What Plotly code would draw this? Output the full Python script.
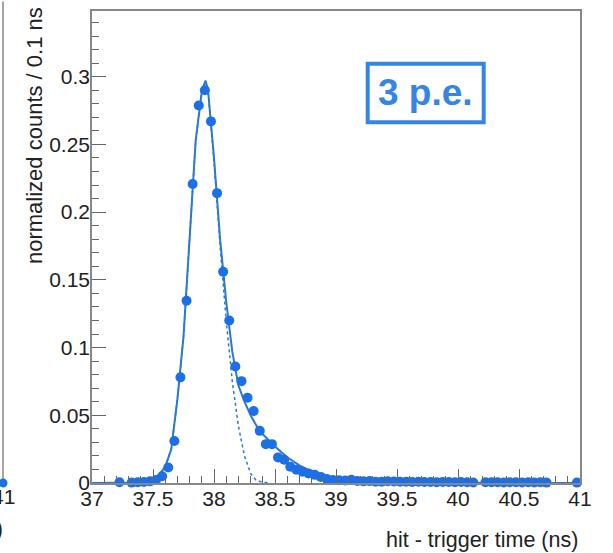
import plotly.graph_objects as go

# ---- data ----
bin_centers = [
    37.025, 37.075, 37.125, 37.175, 37.225, 37.275, 37.325, 37.375, 37.425, 37.475,
    37.525, 37.575, 37.625, 37.675, 37.725, 37.775, 37.825, 37.875, 37.925, 37.975,
    38.025, 38.075, 38.125, 38.175, 38.225, 38.275, 38.325, 38.375, 38.425, 38.475,
    38.525, 38.575, 38.625, 38.675, 38.725, 38.775, 38.825, 38.875, 38.925, 38.975,
    39.025, 39.075, 39.125, 39.175, 39.225, 39.275, 39.325, 39.375, 39.425, 39.475,
    39.525, 39.575, 39.625, 39.675, 39.725, 39.775, 39.825, 39.875, 39.925, 39.975,
    40.025, 40.075, 40.125, 40.175, 40.225, 40.275, 40.325, 40.375, 40.425, 40.475,
    40.525, 40.575, 40.625, 40.675, 40.725, 40.775, 40.825, 40.875, 40.925, 40.975,
]
counts = [
    None, None, None, None, 0.0005, None, 0.0003, 0.0005, 0.0007, 0.0012,
    0.0022, 0.0050, 0.0115, 0.031, 0.078, 0.1346, 0.2208, 0.2787, 0.2900, 0.2670,
    0.2140, 0.1560, 0.1200, 0.0860, 0.0752, 0.0630, 0.0532, 0.0385, 0.0287, 0.0287,
    0.0189, 0.0172, 0.0120, 0.0098, 0.0083, 0.0071, 0.0060, 0.0045, 0.0030, 0.0022,
    0.0020, 0.0018, 0.0024, 0.0015, 0.0012, 0.0014, 0.0010, 0.0009, 0.0013, 0.0011,
    0.0009, 0.0010, 0.0008, 0.0009, 0.0007, 0.0008, 0.0006, 0.0008, 0.0007, 0.0006,
    0.0007, 0.0005, 0.0004, None, 0.0006, 0.0005, 0.0006, 0.0004, 0.0005, 0.0006,
    0.0004, 0.0005, 0.0004, 0.0005, 0.0003, None, None, None, None, 0.0003,
]

fit_x = [37.0, 37.3, 37.4, 37.45, 37.5, 37.55, 37.6, 37.65, 37.7, 37.75, 37.8, 37.85,
         37.9, 37.93, 37.95, 38.0, 38.05, 38.1, 38.15, 38.2, 38.25, 38.3, 38.35, 38.4,
         38.5, 38.6, 38.7, 38.8, 38.9, 39.0, 39.2, 39.5, 40.0, 41.0]
fit_y = [0.0, 0.0, 0.0003, 0.001, 0.003, 0.006, 0.012, 0.025, 0.062, 0.108, 0.180, 0.253,
         0.289, 0.297, 0.291, 0.240, 0.180, 0.134, 0.097, 0.072, 0.060, 0.050, 0.042, 0.036,
         0.027, 0.019, 0.013, 0.0085, 0.0055, 0.0035, 0.0015, 0.0005, 0.0001, 0.0]

gauss_x = [37.0, 37.3, 37.4, 37.45, 37.5, 37.55, 37.6, 37.65, 37.7, 37.75, 37.8, 37.85,
           37.9, 37.93, 37.95, 38.0, 38.05, 38.1, 38.15, 38.2, 38.25, 38.3, 38.35, 38.45]
gauss_y = [0.0, 0.0, 0.0003, 0.001, 0.003, 0.006, 0.012, 0.025, 0.062, 0.108, 0.180, 0.253,
           0.289, 0.297, 0.291, 0.238, 0.175, 0.120, 0.075, 0.042, 0.020, 0.007, 0.0015, 0.0]

x_title = "hit - trigger time (ns)"
y_title = "normalized counts / 0.1 ns"
label_text = "3 p.e."

MARK = "#1c6fe6"
LINE = "#2a78d8"
BOX = "#3584e8"
FONT = "Liberation Sans, Arial, Helvetica, sans-serif"

fig = go.Figure()
fig.add_trace(go.Scatter(x=fit_x, y=fit_y, mode="lines",
                         line=dict(color=LINE, width=2), cliponaxis=False,
                         showlegend=False, hoverinfo="skip"))
fig.add_trace(go.Scatter(x=gauss_x, y=gauss_y, mode="lines",
                         line=dict(color=LINE, width=1.5, dash="dot"), cliponaxis=False,
                         showlegend=False, hoverinfo="skip"))
fig.add_trace(go.Scatter(x=bin_centers, y=counts, mode="markers",
                         marker=dict(color=MARK, size=10), cliponaxis=False,
                         showlegend=False))

axis_common = dict(
    showgrid=False, zeroline=False, showline=True, mirror=True,
    linecolor="#888888", linewidth=1.5,
    ticks="inside", ticklen=14, tickwidth=1.2, tickcolor="#666666",
    tickfont=dict(family=FONT, size=21, color="#222222"),
)

fig.update_layout(
    width=613, height=553,
    margin=dict(l=92, r=33, t=9, b=70),
    paper_bgcolor="white", plot_bgcolor="white",
    font=dict(family=FONT, color="#222222"),
    xaxis=dict(range=[37, 41], tick0=37, dtick=0.5, ticklabelstandoff=-4,
               minor=dict(ticks="inside", ticklen=7, dtick=0.1, tickcolor="#666666", tickwidth=1.2),
               **axis_common),
    yaxis=dict(range=[0, 0.3485], tick0=0, dtick=0.05, ticklabelstandoff=-4,
               minor=dict(ticks="inside", ticklen=7, dtick=0.01, tickcolor="#666666", tickwidth=1.2),
               **axis_common),
)

# axis titles (ROOT style: aligned to the end of the axis)
fig.add_annotation(text=y_title, xref="paper", yref="paper",
                   x=(34.5 - 92) / 488, y=(483 - 3) / 474, xanchor="center", yanchor="top",
                   textangle=-90, showarrow=False, font=dict(family=FONT, size=22, color="#222222"))
fig.add_annotation(text=x_title, xref="paper", yref="paper",
                   x=1.0, y=(483 - 540) / 474, xanchor="right", yanchor="middle",
                   showarrow=False, font=dict(family=FONT, size=21.5, color="#222222"))

# "3 p.e." label box
fig.add_shape(type="rect", xref="paper", yref="paper",
              x0=(367.7 - 92) / 488, x1=(483.7 - 92) / 488,
              y0=(483 - 120.7) / 474, y1=(483 - 62) / 474,
              line=dict(color=BOX, width=4), fillcolor="white")
fig.add_annotation(text="<b>" + label_text + "</b>", xref="paper", yref="paper",
                   x=(425 - 92) / 488, y=(483 - 91) / 474, xanchor="center", yanchor="middle",
                   showarrow=False, font=dict(family=FONT, size=37, color=BOX))

# remnants of the neighbouring panel at the left edge
fig.add_shape(type="line", xref="paper", yref="paper",
              x0=(3 - 92) / 488, x1=(3 - 92) / 488, y0=0, y1=1.02,
              line=dict(color="#888888", width=1.5))
fig.add_shape(type="circle", xref="paper", yref="paper",
              x0=(-1.5 - 92) / 488, x1=(7.5 - 92) / 488,
              y0=(483 - 487.5) / 474, y1=(483 - 478.5) / 474,
              line=dict(color=MARK, width=0), fillcolor=MARK)
fig.add_annotation(text="41", xref="paper", yref="paper",
                   x=(17 - 92) / 488, y=(483 - 497) / 474, xanchor="right", yanchor="middle",
                   showarrow=False, font=dict(family=FONT, size=21, color="#222222"))
fig.add_annotation(text="(ns)", xref="paper", yref="paper",
                   x=(5 - 92) / 488, y=(483 - 529) / 474, xanchor="right", yanchor="middle",
                   showarrow=False, font=dict(family=FONT, size=21.5, color="#222222"))

fig.write_html(
    "out.html",
    config={"displayModeBar": False},
    post_script="document.body.style.margin='0';document.body.style.overflow='hidden';",
)
